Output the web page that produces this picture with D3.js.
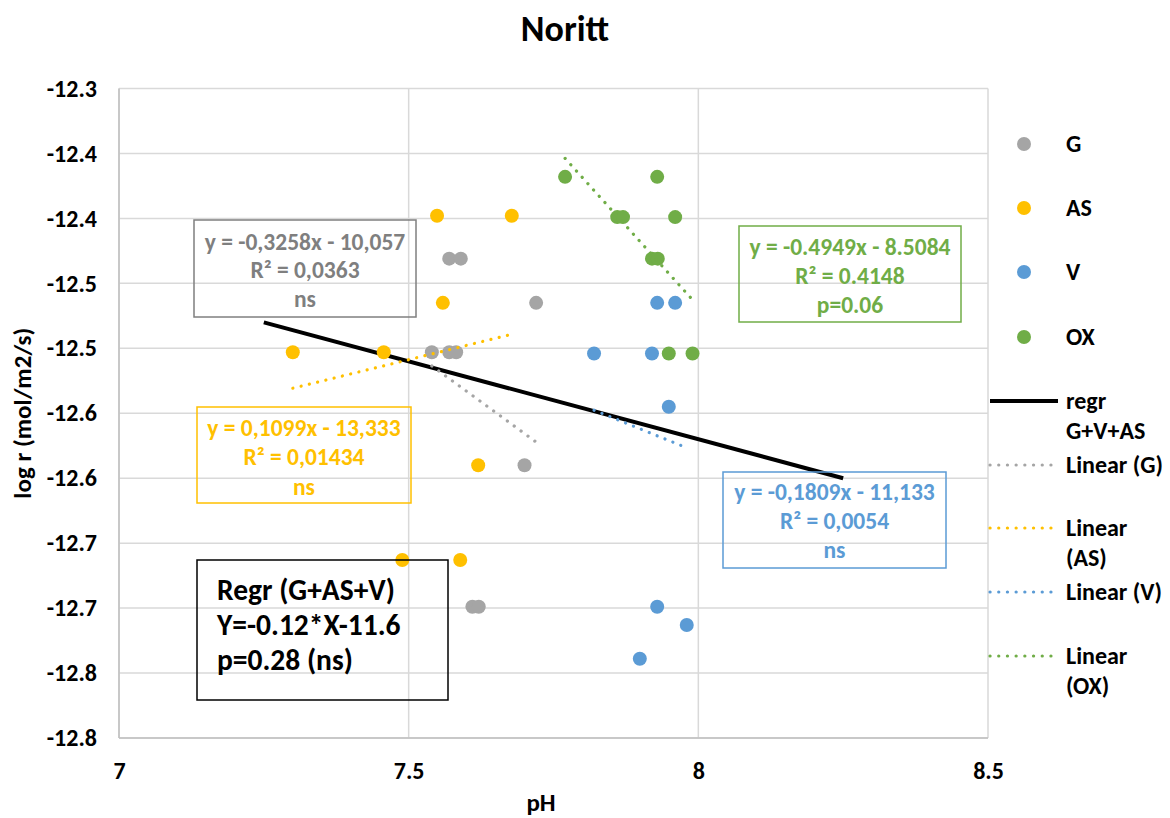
<!DOCTYPE html>
<html><head><meta charset="utf-8">
<script src="https://cdn.jsdelivr.net/npm/d3@7"></script>
<style>
body{margin:0;background:#fff;}
text{font-family:Carlito,Lato,"Liberation Sans",sans-serif;font-weight:bold;}
</style></head>
<body><svg id="chart" width="1170" height="818"></svg>
<script>
// ---- data ----
const seriesNames = ["G", "AS", "V", "OX"];
const seriesColors = ["#a5a5a5", "#ffc000", "#5b9bd5", "#70ad47"];
const gX  = [7.54, 7.57, 7.582, 7.57, 7.59, 7.72, 7.70, 7.61, 7.621];
const gY  = [-12.503, -12.503, -12.503, -12.431, -12.431, -12.465, -12.590, -12.699, -12.699];
const asX = [7.30, 7.457, 7.549, 7.678, 7.559, 7.62, 7.489, 7.589];
const asY = [-12.503, -12.503, -12.398, -12.398, -12.465, -12.590, -12.663, -12.663];
const vX  = [7.82, 7.92, 7.929, 7.96, 7.949, 7.929, 7.98, 7.899];
const vY  = [-12.504, -12.504, -12.465, -12.465, -12.545, -12.699, -12.713, -12.739];
const oxX = [7.77, 7.929, 7.86, 7.87, 7.96, 7.92, 7.93, 7.949, 7.99];
const oxY = [-12.368, -12.368, -12.399, -12.399, -12.399, -12.431, -12.431, -12.504, -12.504];
// trend lines (slope, intercept) per series
const trendSlopes = [-0.3258, 0.1099, -0.1809, -0.4949];
const trendIntercepts = [-10.057, -13.333, -11.133, -8.5084];
// combined regression G+AS+V
const regrSlope = -0.12, regrIntercept = -11.61;
const regrXRange = [7.25, 8.25];
// axes
const xTicks = [7, 7.5, 8, 8.5];
const yTickValues = [-12.3, -12.35, -12.4, -12.45, -12.5, -12.55, -12.6, -12.65, -12.7, -12.75, -12.8];
const yTickLabels = ["-12.3", "-12.4", "-12.4", "-12.5", "-12.5", "-12.6", "-12.6", "-12.7", "-12.7", "-12.8", "-12.8"];
// annotation texts
const boxTexts = [
  ["y = -0,3258x - 10,057", "R² = 0,0363", "ns"],
  ["y = 0,1099x - 13,333", "R² = 0,01434", "ns"],
  ["y = -0,1809x - 11,133", "R² = 0,0054", "ns"],
  ["y = -0.4949x - 8.5084", "R² = 0.4148", "p=0.06"]
];
const regrText = ["Regr (G+AS+V)", "Y=-0.12*X-11.6", "p=0.28 (ns)"];
const legendLineLabels = [["regr", "G+V+AS"], ["Linear (G)"], ["Linear", "(AS)"], ["Linear (V)"], ["Linear", "(OX)"]];

const seriesData = [[gX, gY], [asX, asY], [vX, vY], [oxX, oxY]]
  .map(([xs, ys]) => xs.map((x, i) => ({x, y: ys[i]})));

// ---- layout ----
const svg = d3.select("#chart");
const L = 119, R = 988, T = 88.5, B = 738;
const x = d3.scaleLinear().domain([7, 8.5]).range([L, R]);
const y = d3.scaleLinear().domain([-12.8, -12.3]).range([B, T]);

// gridlines
svg.append("g").selectAll("line.h").data(yTickValues).join("line")
  .attr("x1", L).attr("x2", R).attr("y1", d => y(d)).attr("y2", d => y(d))
  .attr("stroke", "#d9d9d9").attr("stroke-width", 1.5);
svg.append("g").selectAll("line.v").data(xTicks).join("line")
  .attr("y1", T).attr("y2", B).attr("x1", d => x(d)).attr("x2", d => x(d))
  .attr("stroke", "#d9d9d9").attr("stroke-width", 1.5);
// axis lines
svg.append("line").attr("x1", L).attr("x2", L).attr("y1", T).attr("y2", B).attr("stroke", "#bfbfbf").attr("stroke-width", 1.5);
svg.append("line").attr("x1", L).attr("x2", R).attr("y1", B).attr("y2", B).attr("stroke", "#bfbfbf").attr("stroke-width", 1.5);

// axes labels via d3 axes
const yAxis = svg.append("g").attr("transform", `translate(${L},0)`)
  .call(d3.axisLeft(y).tickValues(yTickValues).tickFormat((d, i) => yTickLabels[i]).tickSize(0).tickPadding(22));
yAxis.select(".domain").remove();
yAxis.selectAll("text").attr("font-size", 24).attr("fill", "#000")
  .style("font-family", "Carlito,Lato,sans-serif").style("font-weight", "bold");
const xAxis = svg.append("g").attr("transform", `translate(0,${B})`)
  .call(d3.axisBottom(x).tickValues(xTicks).tickFormat(d3.format("")).tickSize(0).tickPadding(24));
xAxis.select(".domain").remove();
xAxis.selectAll("text").attr("font-size", 24).attr("fill", "#000")
  .style("font-family", "Carlito,Lato,sans-serif").style("font-weight", "bold");

// titles
svg.append("text").attr("x", 565).attr("y", 41).attr("text-anchor", "middle").attr("font-size", 36).text("Noritt");
svg.append("text").attr("transform", `translate(31,${(T + B) / 2}) rotate(-90)`).attr("text-anchor", "middle")
  .attr("font-size", 25).text("log r (mol/m2/s)");
svg.append("text").attr("x", 541).attr("y", 811).attr("text-anchor", "middle").attr("font-size", 25).text("pH");

// combined regression line
svg.append("line")
  .attr("x1", x(regrXRange[0])).attr("y1", y(regrSlope * regrXRange[0] + regrIntercept))
  .attr("x2", x(regrXRange[1])).attr("y2", y(regrSlope * regrXRange[1] + regrIntercept))
  .attr("stroke", "#000").attr("stroke-width", 4);

// points
seriesData.forEach((pts, s) => {
  svg.append("g").selectAll("circle").data(pts).join("circle")
    .attr("cx", d => x(d.x)).attr("cy", d => y(d.y)).attr("r", 7)
    .attr("fill", seriesColors[s]);
});
// trend lines
seriesData.forEach((pts, s) => {
  const ext = d3.extent(pts, d => d.x);
  svg.append("line")
    .attr("x1", x(ext[0])).attr("y1", y(trendSlopes[s] * ext[0] + trendIntercepts[s]))
    .attr("x2", x(ext[1])).attr("y2", y(trendSlopes[s] * ext[1] + trendIntercepts[s]))
    .attr("stroke", seriesColors[s]).attr("stroke-width", 3.2)
    .attr("stroke-dasharray", "0.1 8.4").attr("stroke-linecap", "round");
});

// annotation boxes
const boxGeom = [
  {x0: 194, y0: 220, x1: 416, y1: 317, col: "#7f7f7f", lines: [242, 270, 299]},
  {x0: 197, y0: 407, x1: 411, y1: 503, col: "#ffc000", lines: [428, 457, 487]},
  {x0: 723, y0: 472, x1: 946, y1: 568, col: "#5b9bd5", lines: [492, 521, 550]},
  {x0: 739, y0: 226, x1: 961, y1: 322, col: "#70ad47", lines: [247, 276, 305]}
];
boxGeom.forEach((b, i) => {
  svg.append("rect").attr("x", b.x0).attr("y", b.y0).attr("width", b.x1 - b.x0).attr("height", b.y1 - b.y0)
    .attr("fill", "none").attr("stroke", b.col).attr("stroke-width", 1.5);
  boxTexts[i].forEach((t, j) => {
    svg.append("text").attr("x", (b.x0 + b.x1) / 2).attr("y", b.lines[j]).attr("dy", "0.35em")
      .attr("text-anchor", "middle").attr("font-size", 23.5).attr("fill", b.col).text(t);
  });
});
svg.append("rect").attr("x", 197).attr("y", 560).attr("width", 251).attr("height", 140)
  .attr("fill", "none").attr("stroke", "#000").attr("stroke-width", 1.5);
regrText.forEach((t, j) => {
  svg.append("text").attr("x", 217).attr("y", 590 + j * 35).attr("dy", "0.35em")
    .attr("font-size", 29.5).attr("fill", "#000").text(t);
});

// legend
const legMarkY = [144, 208, 272, 337];
seriesNames.forEach((n, i) => {
  svg.append("circle").attr("cx", 1024).attr("cy", legMarkY[i]).attr("r", 7).attr("fill", seriesColors[i]);
  svg.append("text").attr("x", 1066).attr("y", legMarkY[i]).attr("dy", "0.35em").attr("font-size", 24).text(n);
});
const legLineY = [401, 465, 528, 592, 656];
const legLineCols = ["#000"].concat(seriesColors);
legendLineLabels.forEach((lab, i) => {
  const ln = svg.append("line").attr("x1", 990).attr("x2", 1058).attr("y1", legLineY[i]).attr("y2", legLineY[i])
    .attr("stroke", legLineCols[i]);
  if (i === 0) ln.attr("stroke-width", 4);
  else ln.attr("stroke-width", 3.2).attr("stroke-dasharray", "0.1 8.6").attr("stroke-linecap", "round");
  lab.forEach((t, j) => {
    svg.append("text").attr("x", 1066).attr("y", legLineY[i] + j * 30).attr("dy", "0.35em").attr("font-size", 24).text(t);
  });
});
</script></body></html>
